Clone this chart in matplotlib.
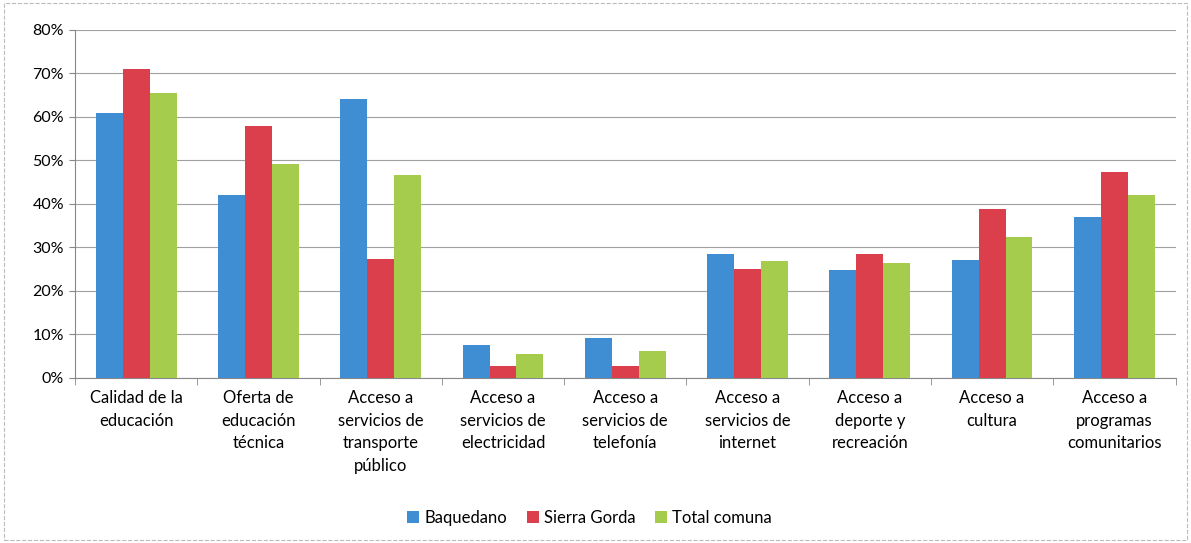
import matplotlib
matplotlib.use("Agg")
import matplotlib.pyplot as plt
import numpy as np
from matplotlib.ticker import FuncFormatter

categories = ["Calidad de la\neducación", "Oferta de\neducación\ntécnica",
              "Acceso a\nservicios de\ntransporte\npúblico", "Acceso a\nservicios de\nelectricidad",
              "Acceso a\nservicios de\ntelefonía", "Acceso a\nservicios de\ninternet",
              "Acceso a\ndeporte y\nrecreación", "Acceso a\ncultura",
              "Acceso a\nprogramas\ncomunitarios"]
baquedano = [61, 42, 64, 7.6, 9.1, 28.5, 24.8, 27.2, 37]
sierra_gorda = [71, 58, 27.4, 2.8, 2.8, 25.1, 28.5, 38.8, 47.3]
total_comuna = [65.6, 49.2, 46.6, 5.4, 6.1, 26.8, 26.5, 32.5, 42]
series_names = ["Baquedano", "Sierra Gorda", "Total comuna"]
colors = ["#3f8ed4", "#db3f4b", "#a5cc4c"]

plt.rcParams['font.family'] = ['Lato', 'DejaVu Sans']

fig = plt.figure(figsize=(11.91, 5.43), dpi=100)
ax = fig.add_axes([0.063, 0.304, 0.924, 0.641])

x = np.arange(len(categories))
w = 0.22
for i, (vals, name, c) in enumerate(zip([baquedano, sierra_gorda, total_comuna], series_names, colors)):
    ax.bar(x + (i - 1) * w, vals, width=w, color=c, label=name, zorder=3)

ax.set_xlim(-0.5, len(categories) - 0.5)
ax.set_ylim(0, 80)
ax.set_yticks(np.arange(0, 81, 10))
ax.yaxis.set_major_formatter(FuncFormatter(lambda v, p: "%d%%" % v))
ax.grid(axis='y', color='#a0a0a0', linewidth=0.8, zorder=0)

ax.set_xticks(x)
ax.set_xticklabels(categories, fontsize=12, linespacing=1.5, va='top')
ax.tick_params(axis='x', length=0, pad=9)
ax.set_xticks(np.arange(-0.5, len(categories)), minor=True)
ax.tick_params(axis='x', which='minor', length=5, color='#888888')
ax.tick_params(axis='y', length=4, color='#888888', labelsize=11.5, pad=4)

for s in ['top', 'right']:
    ax.spines[s].set_visible(False)
ax.spines['left'].set_color('#888888')
ax.spines['bottom'].set_color('#888888')

fig.legend(loc='center', bbox_to_anchor=(0.495, 0.046), ncol=3, frameon=False,
           fontsize=12, handlelength=0.7, handleheight=0.7, handletextpad=0.3, columnspacing=1.2)

fig.patches.append(plt.Rectangle((0.003, 0.005), 0.994, 0.99, transform=fig.transFigure,
                                 fill=False, edgecolor='#bbbbbb', linewidth=0.8, linestyle='--'))

fig.savefig("out.png", dpi=100)
